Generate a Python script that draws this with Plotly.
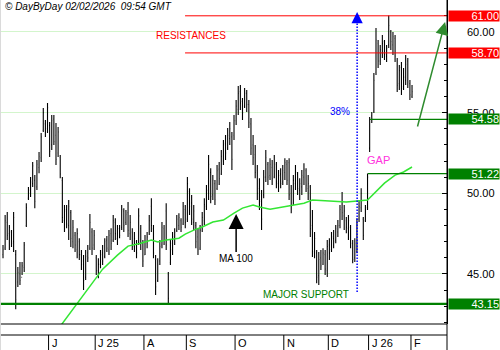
import plotly.graph_objects as go

# ---------------- data ----------------
opens = [
    46.2, 46.6, 48.2, 47.5, 47.6, 47.0, 46.2, 44.5, 45.0, 44.8,
    45.4, 48.0, 49.7, 50.0, 50.6, 50.8, 50.4, 51.6, 52.2, 53.9,
    54.3, 54.0, 54.2, 53.0, 54.6, 53.6, 52.5, 52.2, 50.8, 48.3,
    49.0, 48.0, 48.8, 47.0, 47.4, 46.5, 47.0, 46.2, 45.8, 44.8,
    46.3, 46.6, 47.6, 46.8, 46.0, 45.2, 45.6, 46.3, 46.1, 47.1,
    46.5, 47.5, 47.1, 48.2, 47.2, 47.8, 47.9, 48.9, 48.2, 48.8,
    47.5, 47.6, 46.7, 47.0, 46.9, 47.8, 46.9, 46.2, 46.9, 47.6,
    49.2, 47.8, 45.9, 44.6, 45.8, 46.8, 47.8, 48.9, 45.0, 45.7,
    46.5, 47.2, 47.7, 48.0, 48.3, 48.1, 49.0, 48.4, 50.1, 49.4,
    48.2, 48.0, 47.3, 46.6, 47.8, 48.3, 49.2, 50.0, 51.3, 49.9,
    50.6, 50.3, 51.5, 51.2, 52.0, 53.1, 52.8, 53.4, 53.5, 53.6,
    54.5, 55.2, 56.3, 55.7, 55.4, 56.2, 55.5, 54.3, 53.0, 52.4,
    51.4, 50.3, 49.6, 49.9, 51.0, 51.8, 51.1, 51.6, 51.0, 51.8,
    50.6, 51.2, 50.7, 51.3, 51.8, 51.9, 50.0, 49.4, 50.6, 51.2,
    50.2, 50.4, 51.0, 51.4, 50.3, 50.4, 48.0, 46.3, 46.3, 44.9,
    46.0, 45.6, 46.2, 45.2, 46.8, 46.5, 47.2, 47.1, 47.6, 48.0,
    49.1, 48.6, 48.3, 47.8, 47.9, 46.9, 46.0, 46.4, 48.4, 49.1,
    48.4, 48.3, 49.1, 52.8, 54.8, 55.1, 57.5, 59.3, 58.2, 58.7,
    59.4, 58.5, 59.2, 60.0, 59.2, 59.6, 58.2, 56.8, 57.8, 56.6,
    57.0, 58.2, 56.8, 56.0,
]
highs = [
    46.79, 48.65, 48.84, 48.03, 47.72, 48.84, 46.48, 45.43, 45.74, 45.74,
    46.98, 49.39, 50.39, 51.01, 51.94, 51.13, 52.06, 52.56, 53.74, 55.28,
    54.54, 55.59, 54.42, 54.85, 54.85, 54.35, 54.11, 52.37, 51.01, 49.27,
    49.27, 49.58, 48.96, 48.34, 47.60, 47.84, 47.22, 46.48, 46.17, 46.48,
    46.79, 48.71, 47.84, 47.72, 46.17, 45.98, 46.48, 46.79, 47.22, 47.35,
    47.72, 47.84, 48.65, 48.46, 48.03, 48.03, 49.27, 49.08, 48.96, 49.46,
    48.65, 47.84, 47.60, 47.10, 49.08, 48.03, 47.10, 47.41, 47.60, 48.65,
    49.70, 48.03, 46.17, 45.98, 47.10, 48.22, 48.03, 49.39, 45.12, 47.10,
    47.60, 47.84, 48.65, 48.77, 48.46, 49.46, 49.27, 51.01, 50.32, 49.89,
    49.27, 48.22, 47.84, 48.03, 48.84, 49.70, 50.51, 52.37, 51.56, 51.13,
    50.82, 51.75, 51.94, 52.68, 53.30, 53.61, 54.04, 54.42, 53.80, 54.85,
    55.78, 56.65, 56.71, 55.90, 56.52, 56.40, 55.78, 54.66, 53.61, 52.99,
    51.75, 50.94, 50.20, 51.44, 52.68, 51.94, 52.18, 52.06, 52.37, 51.94,
    51.44, 51.56, 51.75, 52.18, 52.06, 52.18, 50.51, 51.13, 51.75, 51.32,
    50.94, 51.44, 51.87, 51.56, 51.13, 50.51, 48.96, 47.60, 46.48, 46.36,
    46.48, 46.60, 46.48, 47.10, 47.22, 47.60, 47.72, 48.03, 48.34, 49.27,
    50.08, 49.27, 48.53, 48.65, 48.03, 47.10, 47.22, 48.46, 49.58, 50.32,
    48.53, 49.27, 51.22, 54.73, 55.04, 57.45, 60.24, 59.50, 59.19, 59.81,
    59.50, 59.19, 61.02, 60.12, 60.00, 59.81, 58.38, 57.95, 58.14, 57.76,
    58.57, 58.38, 57.02, 56.71,
]
lows = [
    45.98, 46.48, 47.10, 46.48, 46.67, 46.36, 42.82, 44.19, 44.31, 44.93,
    45.12, 47.91, 49.58, 49.77, 50.39, 49.08, 50.20, 51.25, 51.94, 53.80,
    53.49, 53.74, 52.25, 52.68, 52.99, 51.75, 52.25, 50.94, 48.16, 47.60,
    47.84, 47.10, 46.67, 46.60, 46.36, 45.98, 45.86, 45.24, 44.00, 44.62,
    45.74, 46.48, 46.17, 46.48, 44.93, 44.74, 45.36, 45.55, 45.98, 46.36,
    46.17, 46.48, 46.98, 47.10, 46.79, 47.22, 47.72, 47.60, 48.03, 47.29,
    47.10, 46.48, 46.36, 45.98, 46.79, 46.48, 45.43, 46.17, 46.60, 47.41,
    47.60, 45.98, 43.69, 44.50, 45.55, 46.60, 46.79, 46.48, 43.19, 45.55,
    46.17, 46.79, 47.60, 47.72, 47.60, 48.03, 47.84, 48.22, 48.65, 48.03,
    47.72, 46.60, 46.17, 46.48, 47.60, 48.03, 48.96, 49.58, 49.39, 49.58,
    49.27, 50.20, 50.51, 51.13, 51.75, 52.06, 52.68, 52.99, 51.44, 53.30,
    54.23, 54.85, 55.16, 54.54, 55.28, 55.04, 54.04, 52.37, 51.75, 50.94,
    49.58, 48.96, 47.72, 49.70, 50.70, 50.51, 50.82, 50.51, 50.94, 50.32,
    50.08, 50.32, 50.51, 50.82, 50.51, 49.58, 48.77, 49.27, 50.20, 49.89,
    49.58, 49.89, 50.51, 50.08, 49.58, 47.29, 46.05, 45.98, 44.43, 44.31,
    45.24, 45.55, 44.93, 44.81, 45.86, 46.36, 46.60, 46.91, 47.29, 47.84,
    48.34, 47.72, 47.53, 47.10, 46.60, 45.67, 45.74, 46.29, 48.22, 48.84,
    47.10, 48.22, 48.96, 52.56, 54.35, 54.97, 57.33, 57.76, 57.95, 58.38,
    58.26, 58.14, 59.00, 58.88, 58.57, 58.14, 56.28, 56.40, 56.09, 56.40,
    56.71, 56.52, 55.78, 55.90,
]
closes = [
    46.5, 48.3, 47.4, 47.9, 46.9, 48.5, 43.4, 45.1, 44.6, 45.5,
    46.8, 49.1, 50.2, 50.7, 51.7, 49.5, 51.8, 52.3, 53.5, 55.0,
    53.8, 55.3, 52.6, 54.5, 53.2, 52.1, 53.8, 51.2, 48.5, 48.9,
    48.1, 49.2, 47.2, 47.9, 46.8, 47.5, 46.2, 45.6, 44.6, 46.1,
    46.0, 48.2, 46.6, 47.4, 45.2, 45.6, 46.2, 45.8, 47.0, 46.6,
    47.4, 46.9, 48.3, 47.5, 47.8, 47.4, 49.0, 48.0, 48.7, 47.7,
    48.2, 46.8, 47.2, 46.3, 48.6, 46.9, 45.8, 47.0, 47.3, 48.3,
    48.0, 46.3, 44.2, 45.6, 46.7, 47.9, 47.1, 46.8, 43.5, 46.9,
    47.3, 47.6, 48.4, 48.5, 47.9, 49.2, 48.2, 50.6, 49.2, 48.4,
    48.9, 47.0, 46.5, 47.7, 48.5, 49.3, 50.2, 51.8, 49.8, 50.8,
    49.6, 51.4, 50.9, 52.3, 53.0, 52.5, 53.6, 54.0, 52.1, 54.5,
    55.4, 56.2, 55.6, 55.0, 56.2, 55.5, 54.4, 52.8, 52.2, 51.3,
    50.0, 49.5, 48.4, 51.0, 52.2, 51.0, 51.8, 50.9, 52.0, 50.7,
    51.1, 50.6, 51.4, 51.9, 50.8, 49.9, 49.2, 50.8, 51.3, 50.3,
    50.6, 51.1, 51.5, 50.5, 50.6, 47.8, 46.4, 47.2, 44.8, 45.9,
    45.5, 46.3, 45.3, 46.7, 46.3, 47.3, 47.0, 47.8, 48.0, 49.0,
    48.8, 48.9, 47.9, 48.3, 46.9, 45.9, 46.9, 48.1, 49.2, 50.0,
    47.4, 49.0, 51.0, 54.4, 54.6, 57.0, 59.5, 58.2, 58.9, 59.3,
    58.6, 59.0, 60.4, 59.4, 59.7, 58.5, 56.7, 57.6, 56.5, 57.2,
    58.0, 56.9, 56.1, 56.3,
]
bars = list(range(len(closes)))

# 100-day moving average, read at selected bars
ma_bar = [25, 33, 36, 41, 47, 54, 59, 65, 70, 73, 77, 83, 86, 90, 94, 99,
          104, 109, 113, 118, 121, 126, 135, 142, 146, 154, 162, 172, 176,
          180, 185, 189, 193]
ma_val = [41.40, 42.82, 43.35, 44.19, 45.30, 46.17, 46.73, 46.91, 47.10,
          46.98, 47.10, 47.22, 47.47, 47.72, 47.91, 48.22, 48.34, 48.77,
          49.08, 49.27, 49.15, 49.02, 49.21, 49.39, 49.58, 49.52, 49.46,
          49.58, 50.08, 50.63, 51.13, 51.32, 51.63]

# month tick labels (first bar of each month)
month_bar = [22, 44, 67, 87, 110, 133, 154, 173, 193]
month_lbl = ["J", "J 25", "A", "S", "O", "N", "D", "J 26", "F"]

ytick_vals = [60, 55, 50, 45]

resistance_levels = [61.00, 58.70]
support_levels = [54.58, 51.22]
major_support = 43.15

# ---------------- layout helpers ----------------
W, H = 500, 350
ML, MR, MT, MB = 0, 53, 0, 26
PW, PH = W - ML - MR, H - MT - MB
X0, X1 = -1.42, 209.5
Y0, Y1 = 41.90, 61.98
FONT = "Liberation Sans, Arial, sans-serif"
RED = "#ff0000"
DKGREEN = "#008000"


def py(px):  # pixel below plot top -> paper y
    return (PH - px) / PH


def pxx(px):  # pixel from left -> paper x
    return px / PW


fig = go.Figure()
fig.add_trace(go.Ohlc(
    x=bars, open=opens, high=highs, low=lows, close=closes,
    increasing=dict(line=dict(color="black", width=1.1)),
    decreasing=dict(line=dict(color="black", width=1.1)),
    tickwidth=0.3, showlegend=False, hoverinfo="skip"))
fig.add_trace(go.Scatter(
    x=ma_bar, y=ma_val, mode="lines",
    line=dict(color="#33e633", width=1.5), showlegend=False, hoverinfo="skip"))

shapes = []
for lvl in resistance_levels:
    shapes.append(dict(type="line", xref="x", yref="y", x0=85.9, x1=X1,
                       y0=lvl, y1=lvl, line=dict(color=RED, width=1)))
for lvl, start in zip(support_levels, [173.2, 172.2]):
    shapes.append(dict(type="line", xref="x", yref="y", x0=start, x1=X1,
                       y0=lvl, y1=lvl, line=dict(color=DKGREEN, width=1.2)))
shapes.append(dict(type="line", xref="x", yref="y", x0=X0, x1=X1,
                   y0=major_support, y1=major_support,
                   line=dict(color=DKGREEN, width=2.2)))
# blue dotted projection line
shapes.append(dict(type="line", xref="x", yref="y", x0=167.1, x1=167.1,
                   y0=43.89, y1=60.9,
                   line=dict(color="#0000ff", width=1.5, dash="1.5px,1.5px")))
# bottom frame
shapes.append(dict(type="line", xref="paper", yref="paper", x0=0, x1=1,
                   y0=0, y1=0, line=dict(color="black", width=1)))
shapes.append(dict(type="line", xref="paper", yref="paper", x0=0, x1=1,
                   y0=py(335), y1=py(335), line=dict(color="black", width=1)))
shapes.append(dict(type="line", xref="paper", yref="paper", x0=1, x1=1,
                   y0=py(350), y1=1, line=dict(color="black", width=1)))
shapes.append(dict(type="line", xref="paper", yref="paper", x0=0.001, x1=0.001,
                   y0=py(350), y1=1, line=dict(color="#d8d8d8", width=1)))
for mb in month_bar:
    shapes.append(dict(type="line", xref="x", yref="paper", x0=mb - 0.5,
                       x1=mb - 0.5, y0=py(335), y1=py(350),
                       line=dict(color="black", width=1)))

ann = []
for mb, lbl in zip(month_bar, month_lbl):
    ann.append(dict(xref="x", yref="paper", x=mb - 0.5, y=py(343),
                    xanchor="left", yanchor="middle", xshift=1, text=lbl,
                    showarrow=False, font=dict(size=11, color="black", family=FONT)))
for v in ytick_vals:
    ann.append(dict(xref="paper", yref="y", x=pxx(497), y=v, xanchor="right",
                    yanchor="middle", text=f"{v:.2f}", showarrow=False,
                    font=dict(size=11, color="black", family=FONT)))
for lvl, col in ([(l, RED) for l in resistance_levels]
                 + [(l, DKGREEN) for l in support_levels]
                 + [(major_support, DKGREEN)]):
    ann.append(dict(xref="paper", yref="y", x=pxx(448), y=lvl, xanchor="left",
                    yanchor="middle", text=f"{lvl:.2f}", showarrow=False,
                    bgcolor=col, width=50, height=10, borderpad=0, align="right",
                    font=dict(size=11, color="white", family=FONT)))

ann.append(dict(xref="paper", yref="paper", x=pxx(3), y=py(7), xanchor="left",
                yanchor="middle", text="© DayByDay 02/02/2026  09:54 GMT",
                showarrow=False,
                font=dict(size=10, color="black", family=FONT, style="italic")))
ann.append(dict(xref="x", yref="y", x=88.7, y=59.75, text="RESISTANCES",
                showarrow=False, font=dict(size=10, color=RED, family=FONT)))
ann.append(dict(xref="x", yref="y", x=159.0, y=55.10, text="38%",
                showarrow=False, font=dict(size=10, color="#0000ff", family=FONT)))
ann.append(dict(xref="x", yref="y", x=177.4, y=52.07, text="GAP",
                showarrow=False, font=dict(size=11, color="#ff33dd", family=FONT)))
ann.append(dict(xref="x", yref="y", x=143.0, y=43.70, text="MAJOR SUPPORT",
                showarrow=False, font=dict(size=10, color=DKGREEN, family=FONT)))
ann.append(dict(xref="x", yref="y", x=110.0, y=48.72, text="MA 100",
                showarrow=True, ax=0, ay=45, arrowhead=2, arrowsize=2,
                arrowwidth=1.5, arrowcolor="black",
                font=dict(size=10, color="black", family=FONT)))
ann.append(dict(xref="x", yref="y", x=208.6, y=60.62, axref="x", ayref="y",
                ax=195.4, ay=54.05, text="", showarrow=True, arrowhead=2,
                arrowsize=1.7, arrowwidth=1.5, arrowcolor="#2e8b2e"))
ann.append(dict(xref="x", yref="y", x=167.1, y=61.24, ax=0, ay=8, text="",
                showarrow=True, arrowhead=2, arrowsize=1.5, arrowwidth=1.5,
                arrowcolor="#0000ff"))

fig.update_layout(
    width=W, height=H, margin=dict(l=ML, r=MR, t=MT, b=MB, pad=0),
    paper_bgcolor="white", plot_bgcolor="white", showlegend=False,
    shapes=shapes, annotations=ann, font=dict(family=FONT),
    xaxis=dict(range=[X0, X1], visible=False, rangeslider=dict(visible=False),
               fixedrange=True),
    yaxis=dict(range=[Y0, Y1], side="right", showline=True, linecolor="black",
               linewidth=1, ticks="inside", ticklen=5, tickcolor="black",
               tick0=0, dtick=5, showgrid=True, gridcolor="#d3f5cc", gridwidth=1,
               showticklabels=False, zeroline=False, fixedrange=True,
               minor=dict(dtick=1, ticks="inside", ticklen=3, tickcolor="black",
                          showgrid=False)),
)

fig.write_html("out.html")
